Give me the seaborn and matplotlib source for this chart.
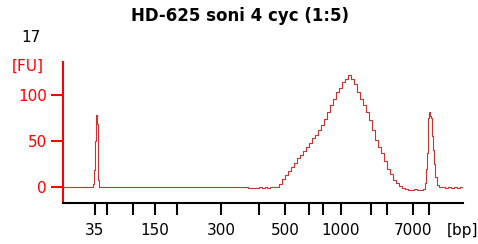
import pandas as pd
import matplotlib
matplotlib.use("Agg")
import matplotlib.pyplot as plt
import seaborn as sns

# ---------data-----------------------------------------------------------------
# migration time (s) of the ladder bands and their sizes
ladder_time = [46.4, 48.8, 54.0, 58.4, 62.8, 71.6, 79.2, 84.4, 89.2, 92.0,
               95.6, 101.6, 104.8, 110.0, 113.2]
ladder_bp = [35, 50, 100, 150, 200, 300, 400, 500, 600, 700,
             1000, 2000, 3000, 7000, 10380]
shown_labels = ['35', '150', '300', '500', '1000', '7000']

# electropherogram trace, sample 17
time_s = [40.0, 44.0, 45.8, 46.0, 46.2, 46.4, 46.6, 46.8, 47.0, 47.2,
          55.0, 65.0, 75.0, 78.8, 79.4, 80.0, 80.6, 81.0,
          81.6, 82.2, 82.8, 83.4, 84.0, 84.6, 85.2, 85.8, 86.4, 87.0,
          87.6, 88.2, 88.8, 89.4, 90.0, 90.6, 91.2, 91.8, 92.4, 93.0,
          93.6, 94.2, 94.8, 95.4, 96.0, 96.6, 97.2, 97.8, 98.4, 99.0,
          99.6, 100.2, 100.8, 101.4, 102.0, 102.6, 103.2, 103.8, 104.4, 105.0,
          105.6, 106.2, 106.8, 107.4, 108.0, 108.6, 109.2, 109.8, 110.4, 111.0,
          111.6, 112.2, 112.4, 112.6, 112.8, 113.0, 113.2, 113.4, 113.6, 113.8,
          114.0, 114.2, 114.6, 115.0, 115.4, 116.0, 116.6, 117.2, 117.8, 118.4,
          119.0, 119.6, 120.0]
fu = [0, 0, 0, 3, 18, 50, 78, 68, 8, 0,
      0, 0, 0, -0.8, 0, -0.8, 0, -0.8,
      0, -0.5, 0.5, 3, 9, 13, 17, 22, 26, 31,
      35, 39, 43, 48, 53, 57, 62, 67, 74, 81,
      89, 96, 103, 108, 114, 117, 122, 117, 112, 103,
      96, 89, 81, 73, 62, 51, 44, 37, 28, 20,
      14, 8, 4, 1, -1, -2, -3, -3.5, -2.5, -3.5,
      -3, -2, 4, 20, 37, 75, 81, 77, 75, 55,
      40, 25, 11, 2, 0.5, 0, -1, 0, -1, -0.5,
      -1, 0, 0]

trace = pd.DataFrame({'time': time_s, 'FU': fu})

# ---------plot-----------------------------------------------------------------
sns.set_style('white')
plt.rcParams['font.family'] = ['DejaVu Sans']
plt.rcParams['text.color'] = 'black'

fig = plt.figure(figsize=(4.78, 2.44), dpi=100)
ax = fig.add_axes([63 / 478, 41 / 244, 400 / 478, 141 / 244])

sns.lineplot(data=trace, x='time', y='FU', ax=ax, color='#cc3333',
             linewidth=0.8, drawstyle='steps-mid')

ax.set_xlim(40, 120)
ax.set_ylim(-17.4, 135.9)

for side in ['top', 'right']:
    ax.spines[side].set_visible(False)
ax.spines['left'].set_color('red')
ax.spines['left'].set_linewidth(1.5)
ax.spines['bottom'].set_color('black')
ax.spines['bottom'].set_linewidth(1.5)

ax.set_yticks([0, 50, 100])
ax.tick_params(axis='y', colors='red', labelcolor='red', direction='out',
               length=8.6, width=1.5, pad=3, labelsize=11, left=True)

ax.set_xticks(ladder_time)
ax.set_xticklabels([str(b) if str(b) in shown_labels else '' for b in ladder_bp])
ax.tick_params(axis='x', colors='black', labelcolor='black', direction='out',
               length=8.6, width=1.5, pad=5.5, labelsize=11, bottom=True)

ax.set_xlabel('')
ax.set_ylabel('')

fig.text(240 / 478, 1 - 16 / 244, 'HD-625 soni 4 cyc (1:5)', ha='center',
         va='center', fontsize=12, fontweight='bold', color='black')
fig.text(31 / 478, 1 - 37 / 244, '17', ha='center', va='center',
         fontsize=11, color='black')
fig.text(28 / 478, 1 - 66 / 244, '[FU]', ha='center', va='center',
         fontsize=11, color='red')
fig.text(462 / 478, 1 - 230 / 244, '[bp]', ha='center', va='center',
         fontsize=11, color='black')

plt.savefig('out.png', dpi=100)
